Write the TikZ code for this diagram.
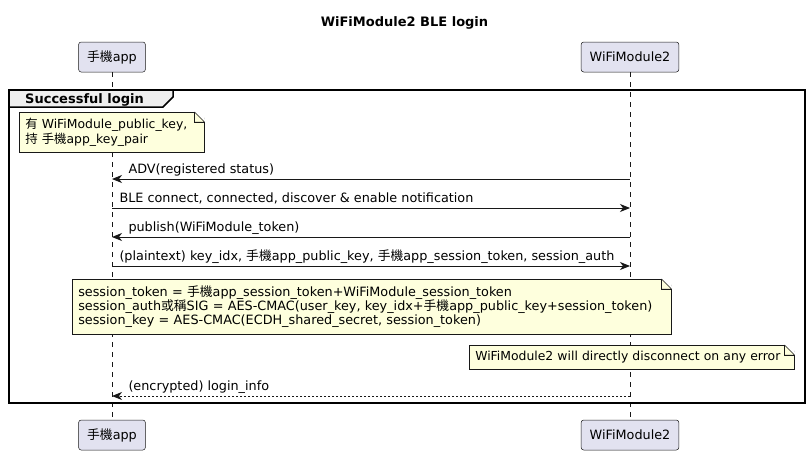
\documentclass[tikz,border=0pt]{standalone}
\usepackage{fontspec}
\setmainfont{DejaVu Sans}
\newfontfamily\cjk{Noto Sans CJK TC}
\usepackage{xcolor}
\usepackage{tikz}
\usetikzlibrary{
	positioning,						% Relative positioning
	arrows.meta,						% Arrow tips
	calc								% Coordinate calculations
}
\definecolor{partfill}{HTML}{E2E2F0}
\definecolor{notefill}{HTML}{FEFFDD}
\definecolor{linegray}{HTML}{181818}
\definecolor{groupfill}{HTML}{EEEEEE}
\newcommand\basefont{\fontsize{12.8}{14.3}\selectfont}
\newcommand\smallnotefont{\fontsize{12.4}{14.3}\selectfont}
\newcommand\hand{{\cjk 手機}}

\begin{document}
\begin{tikzpicture}
		[
		,x=1pt, y=-1pt
		,font=\basefont
		,participant/.style = {
			,draw=linegray
			,fill=partfill
			,rounded corners=2.5pt
			,minimum height=30pt
			,inner xsep=8.5pt
			,line width=0.5pt}
		,lifeline/.style = {
			,draw=linegray
			,line width=0.5pt
			,dash pattern=on 5pt off 5pt}
		,note/.style = {
			,draw=linegray
			,fill=notefill
			,line width=0.5pt
			,anchor=north west
			,align=left
			,inner xsep=6pt
			,inner ysep=0pt}
		,msg/.style = {
			,draw=linegray
			,line width=1pt
			,-arrow_head}
		,reply/.style = {
			,msg
			,dash pattern=on 2pt off 2pt}
		,msg_label/.style = {
			,anchor=base west
			,inner sep=0pt}
		,arrow_head/.tip = {
			Stealth[length=10pt, width=8pt, inset=3pt]}
		]
		\useasboundingbox (0,0) rectangle (809,455);

		% Title
		\node[font=\fontsize{13}{15}\selectfont\bfseries, anchor=base] (title) at (404.5,27) {WiFiModule2 BLE login};

		% Participants
		\node [participant] (app)      at (112,57)  {\hand app};
		\node [participant] (wifi)     at (630,57)  {WiFiModule2};
		\node [participant] (app_end)  at (112,435) {\hand app};
		\node [participant] (wifi_end) at (630,435) {WiFiModule2};

		% Lifelines
		\draw[lifeline] (app)  -- (app_end);
		\draw[lifeline] (wifi) -- (wifi_end);

		% Group frame
		\draw[line width=1.5pt] (9,90) rectangle (805,403);
		\draw[line width=1.5pt, fill=groupfill] (9,90) -- (173,90) -- (173,97) -- (163,107) -- (9,107) -- cycle;
		\node[font=\fontsize{13}{15}\selectfont\bfseries, msg_label] (group_label) at (25,103) {Successful login};

		% Notes
		\node [note, font=\smallnotefont, text width=173pt, minimum height=40pt] (note_keys) at (19,112)
			{\mbox{{\cjk 有} WiFiModule\_public\_key,}\\\mbox{{\cjk 持} \hand app\_key\_pair}};
		\node [note, text width=587pt, minimum height=55pt] (note_session) at (72,279)
			{\mbox{session\_token = \hand app\_session\_token+WiFiModule\_session\_token}\\
			 \mbox{session\_auth{\cjk 或稱}SIG = AES-CMAC(user\_key, key\_idx+\hand app\_public\_key+session\_token)}\\
			 \mbox{session\_key = AES-CMAC(ECDH\_shared\_secret, session\_token)}};
		\node [note, font=\smallnotefont, text width=313pt, minimum height=24pt] (note_error) at (469,345)
			{\mbox{WiFiModule2 will directly disconnect on any error}};
		\foreach \n in {note_keys, note_session, note_error} {
			\path[fill=white, draw=white, line width=0.8pt] ($(\n.north east)+(-10,0)$) -- ($(\n.north east)+(0.6,-0.6)$) -- ($(\n.north east)+(0,10)$) -- cycle;
			\draw[linegray, line width=0.5pt, fill=notefill, line join=round] ($(\n.north east)+(-10,0)$) -- ($(\n.north east)+(0,10)$) -| cycle;
			\draw[linegray, line width=0.5pt] ($(\n.north east)+(-10,0)$) |- ($(\n.north east)+(0,10)$);
		}

		% Messages
		\foreach \name/\y in {adv/179, connect/208, publish/237, plain/266, login/396} {
			\coordinate (app_\name)  at (112,\y);
			\coordinate (wifi_\name) at (630,\y);
		}
		\draw[msg] (wifi_adv) -- (app_adv)
			node[msg_label, at end, xshift=16pt, yshift=6pt] (adv_label) {ADV(registered status)};
		\draw[msg] (app_connect) -- (wifi_connect)
			node[msg_label, at start, xshift=7pt, yshift=6pt] (connect_label) {BLE connect, connected, discover \& enable notification};
		\draw[msg] (wifi_publish) -- (app_publish)
			node[msg_label, at end, xshift=16pt, yshift=6pt] (publish_label) {publish(WiFiModule\_token)};
		\draw[msg] (app_plain) -- (wifi_plain)
			node[msg_label, at start, xshift=7pt, yshift=6pt] (plain_label) {(plaintext) key\_idx, \hand app\_public\_key, \hand app\_session\_token, session\_auth};
		\draw[reply] (wifi_login) -- (app_login)
			node[msg_label, at end, xshift=16pt, yshift=6pt] (login_label) {(encrypted) login\_info};
	\end{tikzpicture}
\end{document}
